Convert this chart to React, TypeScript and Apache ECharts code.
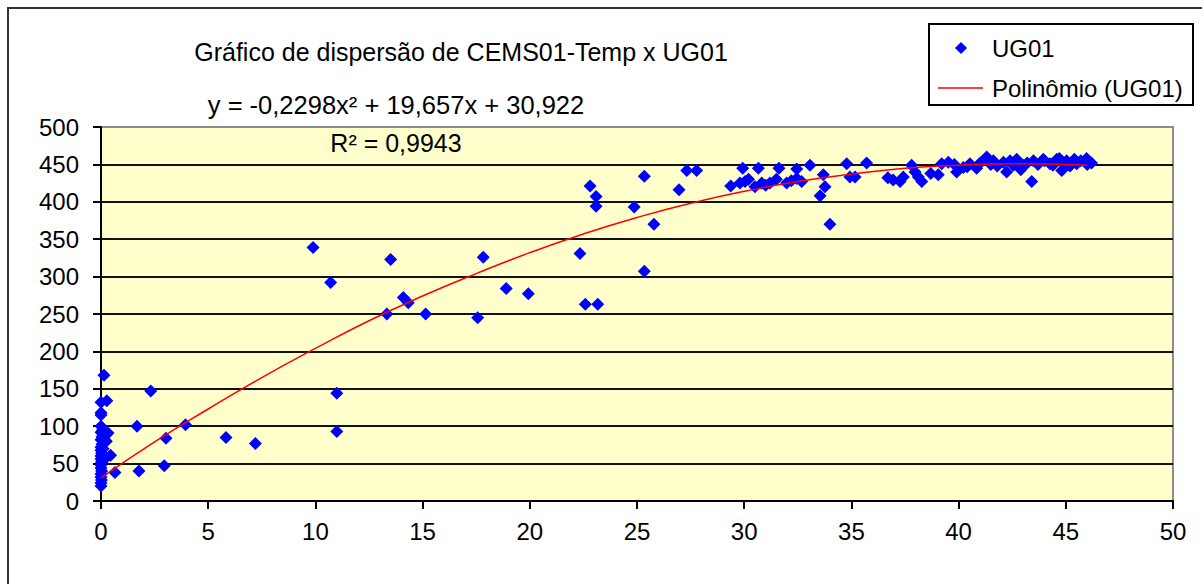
import React, { useEffect, useRef } from "react";
import * as echarts from "echarts";

// ---- Data ----
const titleText = "Gráfico de dispersão de CEMS01-Temp x UG01";
const equationText = "y = -0,2298x² + 19,657x + 30,922";
const r2Text = "R² = 0,9943";
const scatterName = "UG01";
const trendName = "Polinômio (UG01)";

const xTicks = { min: 0, max: 50, interval: 5 };
const yTicks = { min: 0, max: 500, interval: 50 };

// UG01 points: [CEMS01-Temp, UG01]
const ug01Near0: number[][] = [
  [0, 20], [0, 24], [0.02, 28], [0, 32], [0, 36], [0.03, 40], [0, 44], [0, 48],
  [0.02, 52], [0, 56], [0, 60], [0.03, 64], [0, 68], [0, 72], [0.05, 76], [0, 82],
  [0.05, 86], [0, 92], [0.08, 95], [0, 100], [0.1, 70], [0.15, 55], [0, 115],
  [0, 118], [0, 132], [0.27, 134], [0.14, 168], [0.33, 91], [0.25, 80], [0.2, 88],
  [0.45, 61], [0.65, 38],
];
const ug01Low: number[][] = [
  [2.32, 147], [1.68, 100], [3.94, 102], [3.03, 84], [5.83, 85], [7.2, 77],
  [1.77, 40], [2.95, 47],
];
const ug01Mid: number[][] = [
  [9.89, 339], [10.71, 292], [13.51, 323], [14.1, 272], [14.33, 265], [13.33, 250],
  [15.14, 250], [17.57, 245], [17.83, 326], [18.9, 284], [19.93, 277], [11.0, 144],
  [11.0, 93], [22.81, 421], [23.09, 407], [23.09, 394], [22.34, 331], [22.59, 263],
  [23.17, 263], [24.87, 393], [25.34, 434], [25.79, 370], [25.34, 307], [26.96, 416],
  [27.32, 442], [27.78, 442],
];
const ug01High: number[][] = [
  [29.37, 421], [29.8, 425], [30.04, 427], [29.93, 445], [30.66, 445], [30.82, 425],
  [31.2, 425], [31.62, 445], [31.98, 425], [32.45, 444], [32.45, 431], [32.68, 427],
  [33.07, 449], [33.69, 436], [33.77, 420], [33.54, 408], [34.0, 370], [34.78, 451],
  [34.93, 433], [35.17, 433], [35.71, 452], [30.2, 430], [30.5, 420], [31.0, 422],
  [32.2, 428], [31.5, 430], [36.95, 429], [37.27, 427], [37.42, 433], [37.81, 449],
  [37.97, 440], [38.12, 433], [38.28, 427], [39.05, 436], [39.21, 451], [39.52, 453],
  [39.91, 440], [40.22, 446], [40.53, 451], [40.84, 445], [41.31, 460], [41.62, 455],
  [42.09, 453], [42.24, 440], [42.55, 449], [42.71, 457], [43.02, 449], [43.41, 427],
  [43.49, 455], [43.95, 457], [44.26, 451], [44.58, 457], [44.81, 442], [45.04, 455],
  [45.51, 451], [45.97, 458], [46.2, 452], [41.0, 452], [41.8, 448], [42.4, 455],
  [43.2, 452], [43.7, 450], [44.0, 455], [44.4, 449], [44.9, 452], [45.2, 448],
  [45.7, 455], [46.0, 450], [45.4, 457], [44.7, 458], [42.9, 443], [41.5, 450],
  [40.4, 447], [39.8, 450], [38.7, 438], [36.7, 432],
];

// Trend line
const trendX = [0, 2.5, 5, 7.5, 10, 12.5, 15, 17.5, 20, 22.5, 25, 27.5, 30, 32.5, 35, 37.5, 40, 42.5, 45, 46];
const trendY = [31, 79, 123, 165, 204, 241, 274, 304, 332, 357, 379, 398, 414, 427, 437, 445, 449, 451, 450, 449];

const FONT = "Liberation Sans, Arial, sans-serif";

export default function App() {
  const ref = useRef<HTMLDivElement>(null);

  useEffect(() => {
    if (!ref.current) return;
    const chart = echarts.init(ref.current, undefined, { renderer: "svg" });
    const points = [...ug01Near0, ...ug01Low, ...ug01Mid, ...ug01High];
    const trend = trendX.map((x, i) => [x, trendY[i]]);
    const nLines = (yTicks.max - yTicks.min) / yTicks.interval + 1;
    const splitColors = Array.from({ length: nLines }, (_, i) => (i === nLines - 1 ? "#8c8c8c" : "#111111"));

    chart.setOption({
      animation: false,
      backgroundColor: "#ffffff",
      textStyle: { fontFamily: FONT },
      grid: {
        left: 101,
        right: 29,
        top: 127,
        bottom: 83,
        show: true,
        backgroundColor: "#FFFFCC",
        borderColor: "#8c8c8c",
        borderWidth: 2,
      },
      xAxis: {
        type: "value",
        min: xTicks.min,
        max: xTicks.max,
        interval: xTicks.interval,
        axisLine: { show: true, onZero: false, lineStyle: { color: "#000", width: 2 } },
        axisTick: { show: true, inside: false, length: 8, lineStyle: { color: "#000", width: 2 } },
        axisLabel: { color: "#000", fontSize: 24, fontFamily: FONT, margin: 18 },
        splitLine: { show: false },
      },
      yAxis: {
        type: "value",
        min: yTicks.min,
        max: yTicks.max,
        interval: yTicks.interval,
        axisLine: { show: true, onZero: false, lineStyle: { color: "#000", width: 2 } },
        axisTick: { show: true, inside: false, length: 8, lineStyle: { color: "#000", width: 2 } },
        axisLabel: { color: "#000", fontSize: 24, fontFamily: FONT, margin: 22 },
        splitLine: { show: true, lineStyle: { color: splitColors, width: 2 } },
      },
      series: [
        {
          name: scatterName,
          type: "scatter",
          data: points,
          symbol: "diamond",
          symbolSize: 13,
          itemStyle: { color: "#0000FF", opacity: 1 },
          z: 2,
        },
        {
          name: trendName,
          type: "line",
          data: trend,
          smooth: true,
          showSymbol: false,
          symbol: "none",
          lineStyle: { color: "#FF0000", width: 1.5 },
          z: 3,
        },
      ],
      graphic: [
        {
          type: "rect",
          shape: { x: 8, y: 8, width: 1230, height: 620 },
          style: { fill: "none", stroke: "#333", lineWidth: 2 },
          silent: true,
        },
        {
          type: "text",
          x: 461,
          y: 52,
          style: { text: titleText, font: `25px ${FONT}`, fill: "#000", align: "center", verticalAlign: "middle" },
        },
        {
          type: "text",
          x: 396,
          y: 105,
          style: { text: equationText, font: `25.5px ${FONT}`, fill: "#000", align: "center", verticalAlign: "middle" },
        },
        {
          type: "text",
          x: 396,
          y: 143,
          z: 10,
          style: { text: r2Text, font: `25px ${FONT}`, fill: "#000", align: "center", verticalAlign: "middle" },
        },
        {
          type: "group",
          children: [
            {
              type: "rect",
              shape: { x: 929, y: 24, width: 264, height: 81 },
              style: { fill: "#fff", stroke: "#000", lineWidth: 2 },
            },
            {
              type: "polygon",
              shape: { points: [[961, 42], [967, 48], [961, 54], [955, 48]] },
              style: { fill: "#0000FF" },
            },
            {
              type: "text",
              x: 992,
              y: 48,
              style: { text: scatterName, font: `24px ${FONT}`, fill: "#000", align: "left", verticalAlign: "middle" },
            },
            {
              type: "line",
              shape: { x1: 938, y1: 88, x2: 983, y2: 88 },
              style: { stroke: "#FF0000", lineWidth: 1.5 },
            },
            {
              type: "text",
              x: 992,
              y: 88,
              style: { text: trendName, font: `24px ${FONT}`, fill: "#000", align: "left", verticalAlign: "middle" },
            },
          ],
        },
      ],
    });

    return () => chart.dispose();
  }, []);

  return (
    <div
      ref={ref}
      style={{ position: "fixed", left: 0, top: 0, width: 1202, height: 584, background: "#fff" }}
    />
  );
}
